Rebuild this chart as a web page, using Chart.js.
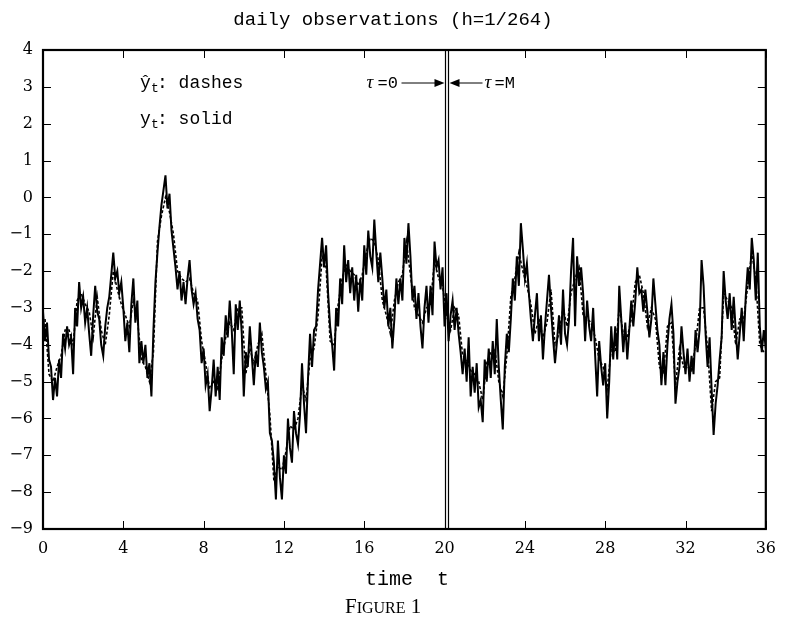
<!DOCTYPE html>
<html lang="en">
<head>
  <meta charset="UTF-8" />
  <title>Figure 1 - daily observations</title>
  <script src="https://cdn.jsdelivr.net/npm/chart.js"></script>
  <style>
    body { margin: 0; background: #fff; }
    #wrap { width: 786px; height: 620px; }
  </style>
</head>
<body>
  <div id="wrap"><canvas id="fig" width="786" height="620"></canvas></div>

  <script>
    // y_t (solid), every 0.1 time units from t = 0
    const solidStart = 0;
    const solidStep = 0.1;
    const ySolid = [
      -3.1, -3.9, -3.4, -4.4, -4.6, -5.5, -4.9, -5.4, -4.4, -4.9,
      -3.7, -4.1, -3.5, -4.0, -3.8, -4.8, -3.0, -3.5, -2.3, -3.0,
      -2.7, -3.4, -3.0, -3.7, -4.3, -3.2, -2.4, -3.1, -3.3, -4.0,
      -4.3, -3.5, -3.0, -2.7, -2.1, -1.5, -2.2, -2.0, -2.6, -2.3,
      -3.0, -3.9, -3.4, -4.2, -2.9, -2.2, -3.4, -2.8, -4.5, -3.9,
      -4.5, -4.0, -4.9, -4.5, -5.4, -3.6, -2.3, -1.5, -0.8, -0.2,
      0.2, 0.6, -0.3, 0.1, -0.9, -1.4, -1.9, -2.5, -2.0, -2.8,
      -2.3, -2.9, -2.2, -1.7, -2.5, -2.9, -2.6, -3.3, -3.6, -4.5,
      -4.1, -5.1, -4.8, -5.8, -5.2, -4.4, -5.4, -4.6, -5.5, -3.8,
      -4.3, -3.2, -3.8, -2.8, -3.6, -4.8, -2.9, -3.6, -2.8, -3.7,
      -5.4, -4.2, -4.6, -3.5, -4.3, -5.1, -4.2, -4.6, -3.4, -4.2,
      -4.6, -5.2, -5.0, -6.4, -6.6, -7.2, -8.2, -6.6, -7.6, -8.2,
      -7.0, -7.5, -6.0, -6.8, -7.2, -5.8, -6.4, -6.7, -5.9, -4.5,
      -5.6, -6.4, -4.9, -3.7, -4.6, -3.6, -3.5, -2.5, -1.8, -1.1,
      -1.9, -1.3, -2.6, -3.5, -4.0, -4.7, -3.0, -3.5, -2.2, -2.9,
      -1.3, -2.3, -1.7, -2.6, -1.9, -2.8, -2.1, -3.1, -2.2, -2.8,
      -1.3, -2.1, -0.9, -1.6, -1.9, -0.6, -1.5, -2.3, -1.5, -2.2,
      -3.0, -2.5, -3.5, -3.0, -4.1, -3.3, -2.2, -2.9, -2.2, -2.8,
      -1.1, -1.8, -0.7, -1.6, -2.8, -2.4, -3.3, -2.6, -3.5, -4.1,
      -3.0, -2.4, -3.4, -2.4, -3.2, -1.2, -1.9, -1.7, -2.5, -1.9,
      -3.5, -2.6, -3.9, -3.2, -2.8, -3.6, -3.0, -3.7, -4.2, -4.8,
      -4.1, -5.0, -3.8, -5.4, -4.6, -5.3, -4.5, -5.7, -5.5, -6.1,
      -4.4, -5.0, -4.1, -4.9, -3.9, -4.8, -3.3, -4.6, -5.5, -6.3,
      -4.6, -3.7, -4.2, -3.3, -2.2, -2.8, -1.6, -2.4, -0.7, -1.4,
      -2.2, -1.8, -2.6, -3.3, -3.9, -3.2, -2.6, -3.9, -3.2, -4.4,
      -3.5, -2.8, -2.1, -3.0, -3.8, -4.5, -3.9, -3.2, -4.0, -2.5,
      -3.7, -4.0, -3.3, -2.0, -1.1, -3.5, -1.6, -2.4, -1.9, -2.6,
      -3.9, -2.8, -3.5, -3.9, -3.0, -4.3, -5.4, -3.9, -4.6, -5.1,
      -4.5, -6.0, -5.0, -3.5, -4.4, -3.5, -4.4, -2.4, -3.3, -4.2,
      -3.4, -4.4, -3.6, -2.8, -3.5, -2.8, -1.9, -2.6, -2.5, -3.1,
      -2.5, -3.1, -3.8, -3.3, -2.2, -2.9, -3.6, -4.0, -5.1, -4.2,
      -5.1, -4.0, -3.3, -2.9, -3.7, -5.6, -5.0, -4.6, -3.5, -4.2,
      -4.8, -4.1, -5.0, -4.3, -4.8, -3.6, -4.2, -3.6, -1.7, -2.4,
      -3.7, -4.6, -3.8, -5.2, -6.45, -5.6, -5.1, -4.4, -3.8, -2.0,
      -2.8, -3.3, -2.6, -3.6, -2.7, -3.6, -4.4, -3.7, -3.0, -3.9,
      -2.7, -1.9, -2.5, -1.1, -1.7, -2.8, -1.5, -3.5, -4.2, -3.6,
      -4.1
    ];

    // y-hat_t (dashes), every 0.2 time units from t = 0.1
    const hatStart = 0.1;
    const hatStep = 0.2;
    const yHat = [
      -3.3, -4.8, -5.0, -4.6, -4.3, -3.6, -3.6, -4.0, -2.8, -2.6,
      -2.9, -3.1, -3.8, -2.7, -3.6, -4.0, -3.2, -2.0, -2.5, -2.9,
      -3.2, -3.5, -2.8, -3.3, -4.4, -4.6, -5.0, -4.2, -1.2, -0.5,
      0.0, -0.4, -1.0, -2.0, -2.2, -2.3, -2.2, -2.6, -2.8, -3.9,
      -4.5, -5.2, -5.0, -5.2, -4.4, -3.8, -3.4, -3.6, -3.0, -3.0,
      -4.8, -4.1, -4.5, -4.0, -3.7, -4.8, -5.9, -7.7, -7.3, -7.4,
      -6.9, -6.2, -6.3, -6.0, -5.1, -5.5, -4.4, -4.1, -3.2, -1.6,
      -1.9, -3.9, -4.0, -2.9, -2.2, -1.8, -2.0, -2.1, -2.4, -2.1,
      -1.5, -1.1, -1.2, -1.7, -2.8, -3.2, -3.7, -2.8, -2.3, -2.1,
      -1.2, -2.1, -3.0, -3.2, -3.4, -3.0, -2.9, -1.7, -2.2, -2.4,
      -3.2, -3.6, -3.0, -3.2, -4.3, -4.4, -4.7, -4.8, -5.0, -5.5,
      -4.5, -4.2, -4.1, -5.0, -5.4, -4.3, -2.7, -2.2, -1.5, -2.0,
      -2.4, -2.9, -3.7, -3.3, -3.8, -3.4, -2.5, -4.0, -3.7, -3.0,
      -3.5, -2.6, -2.2, -1.9, -3.2, -3.3, -3.4, -3.8, -4.4, -4.6,
      -5.2, -4.1, -4.2, -3.0, -3.7, -3.8, -3.3, -2.3, -2.1, -2.6,
      -3.5, -3.0, -3.3, -4.6, -4.8, -3.5, -3.4, -5.1, -4.1, -4.6,
      -4.6, -4.7, -4.0, -3.0, -3.0, -4.1, -5.8, -5.0, -4.9, -2.6,
      -2.8, -3.0, -4.0, -3.3, -3.3, -2.4, -1.5, -2.2, -4.0, -4.2
    ];

    const xTicks = [0, 4, 8, 12, 16, 20, 24, 28, 32, 36];
    const yTicks = [4, 3, 2, 1, 0, -1, -2, -3, -4, -5, -6, -7, -8, -9];
    const tauZero = 20;
    const tauM = 20.15;

    const mono = '"Liberation Mono", "DejaVu Sans Mono", monospace';
    const serif = '"Liberation Serif", "DejaVu Serif", serif';
    const tickFont = '"DejaVu Serif", serif';

    const toPoints = (start, step, values) =>
      values.map((v, i) => ({ x: +(start + i * step).toFixed(2), y: v }));

    const signed = v => (v < 0 ? "\u2212" + Math.abs(v) : String(v));

    // frame, inward ticks, tau lines and the text around the plot
    const figureDecor = {
      id: "figureDecor",
      afterDraw(chart) {
        const { ctx, chartArea: a, scales } = chart;
        const xs = scales.x, ys = scales.y;
        ctx.save();
        ctx.strokeStyle = "#000";
        ctx.fillStyle = "#000";

        ctx.lineWidth = 2.2;
        ctx.strokeRect(a.left, a.top, a.right - a.left, a.bottom - a.top);

        ctx.lineWidth = 1;
        ctx.beginPath();
        xTicks.forEach(v => {
          const px = Math.round(xs.getPixelForValue(v)) + 0.5;
          ctx.moveTo(px, a.bottom); ctx.lineTo(px, a.bottom - 8);
          ctx.moveTo(px, a.top); ctx.lineTo(px, a.top + 8);
        });
        yTicks.forEach(v => {
          const py = Math.round(ys.getPixelForValue(v)) + 0.5;
          ctx.moveTo(a.left, py); ctx.lineTo(a.left + 8, py);
          ctx.moveTo(a.right, py); ctx.lineTo(a.right - 8, py);
        });
        ctx.stroke();

        // tau = 0 and tau = M
        const p0 = Math.round(xs.getPixelForValue(tauZero)) + 0.5;
        const pM = Math.round(xs.getPixelForValue(tauM)) + 0.5;
        ctx.lineWidth = 1.2;
        ctx.beginPath();
        ctx.moveTo(p0, a.top); ctx.lineTo(p0, a.bottom);
        ctx.moveTo(pM, a.top); ctx.lineTo(pM, a.bottom);
        ctx.stroke();

        const ay = 83;
        ctx.lineWidth = 1;
        ctx.beginPath();
        ctx.moveTo(p0 - 44, ay); ctx.lineTo(p0 - 8, ay);
        ctx.moveTo(pM + 8, ay); ctx.lineTo(pM + 34, ay);
        ctx.stroke();
        ctx.beginPath();
        ctx.moveTo(p0 - 1, ay); ctx.lineTo(p0 - 11, ay - 4); ctx.lineTo(p0 - 11, ay + 4); ctx.closePath();
        ctx.moveTo(pM + 1, ay); ctx.lineTo(pM + 11, ay - 4); ctx.lineTo(pM + 11, ay + 4); ctx.closePath();
        ctx.fill();

        ctx.textBaseline = "middle";
        ctx.font = "italic 19px " + serif;
        ctx.textAlign = "left";
        ctx.fillText("\u03c4", p0 - 79, ay);
        ctx.font = "17px " + mono;
        ctx.fillText("=0", p0 - 68, ay);
        ctx.font = "italic 19px " + serif;
        ctx.fillText("\u03c4", pM + 36, ay);
        ctx.font = "17px " + mono;
        ctx.fillText("=M", pM + 46, ay);

        // legend notes
        const lx = 140;
        ctx.textBaseline = "alphabetic";
        ctx.font = "18px " + mono;
        ctx.fillText("\u0177", lx, 88);
        ctx.fillText("y", lx, 124);
        ctx.font = "13px " + mono;
        ctx.fillText("t", lx + 11, 92);
        ctx.fillText("t", lx + 11, 128);
        ctx.font = "18px " + mono;
        ctx.fillText(": dashes", lx + 17, 88);
        ctx.fillText(": solid", lx + 17, 124);

        // title and captions
        ctx.textAlign = "center";
        ctx.textBaseline = "middle";
        ctx.font = "19px " + mono;
        ctx.fillText("daily observations (h=1/264)", 393, 20);
        ctx.font = "20px " + mono;
        ctx.fillText("time  t", 407, 580);

        ctx.textAlign = "left";
        ctx.textBaseline = "alphabetic";
        let fx = 345;
        ctx.font = "21px " + serif;
        ctx.fillText("F", fx, 613); fx += ctx.measureText("F").width;
        ctx.font = "16px " + serif;
        ctx.fillText("IGURE", fx, 613); fx += ctx.measureText("IGURE").width;
        ctx.font = "21px " + serif;
        ctx.fillText(" 1", fx, 613);

        ctx.restore();
      }
    };

    const ctx = document.getElementById("fig").getContext("2d");
    new Chart(ctx, {
      type: "line",
      data: {
        datasets: [
          {
            label: "y_t",
            data: toPoints(solidStart, solidStep, ySolid),
            borderColor: "#000",
            borderWidth: 2,
            pointRadius: 0,
            tension: 0
          },
          {
            label: "yhat_t",
            data: toPoints(hatStart, hatStep, yHat),
            borderColor: "#000",
            borderWidth: 1.6,
            borderDash: [3, 2],
            pointRadius: 0,
            tension: 0
          }
        ]
      },
      options: {
        responsive: false,
        animation: false,
        devicePixelRatio: 1,
        layout: { padding: { top: 50, right: 15, left: 0, bottom: 0 } },
        plugins: { legend: { display: false }, tooltip: { enabled: false }, title: { display: false } },
        scales: {
          x: {
            type: "linear",
            min: 0,
            max: 36,
            afterBuildTicks: s => { s.ticks = xTicks.map(v => ({ value: v })); },
            afterFit: s => { s.height = 91; },
            ticks: { color: "#000", font: { family: tickFont, size: 16 }, padding: 10, maxRotation: 0, autoSkip: false, callback: signed },
            grid: { display: false, drawTicks: false },
            border: { display: false }
          },
          y: {
            type: "linear",
            min: -9,
            max: 4,
            afterBuildTicks: s => { s.ticks = yTicks.map(v => ({ value: v })); },
            afterFit: s => { s.width = 43; },
            ticks: { color: "#000", font: { family: tickFont, size: 16 }, padding: 10, autoSkip: false, callback: signed },
            grid: { display: false, drawTicks: false },
            border: { display: false }
          }
        }
      },
      plugins: [figureDecor]
    });
  </script>
</body>
</html>
